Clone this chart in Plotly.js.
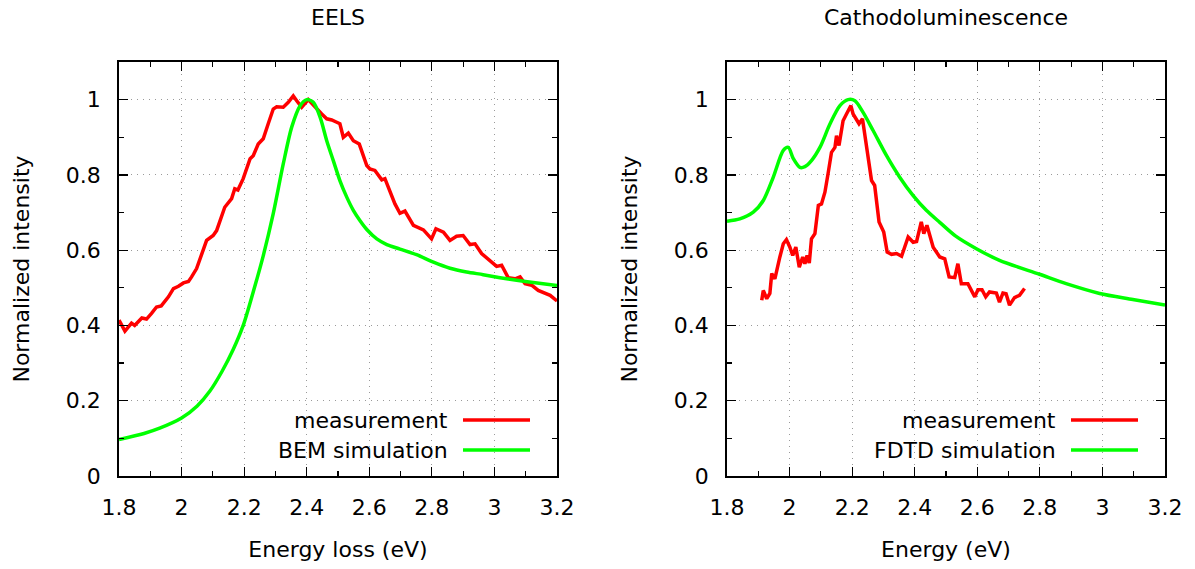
<!DOCTYPE html>
<html>
<head>
<meta charset="utf-8">
<script src="https://cdn.plot.ly/plotly-3.0.1.min.js"></script>
<style>
  html, body { margin: 0; padding: 0; background: #fff; }
  #chart { width: 1195px; height: 569px; }
</style>
</head>
<body>
<div id="chart"></div>
<script>
// EELS: measured spectrum and BEM simulation
const eelsMeasE = [1.800,1.819,1.840,1.850,1.873,1.888,1.904,1.920,1.935,1.958,1.974,1.990,2.006,2.022,2.032,2.048,2.080,2.101,2.112,2.138,2.160,2.170,2.180,2.197,2.219,2.229,2.245,2.261,2.277,2.293,2.304,2.325,2.341,2.357,2.368,2.384,2.405,2.426,2.448,2.464,2.480,2.496,2.506,2.517,2.533,2.549,2.568,2.592,2.602,2.618,2.640,2.650,2.682,2.698,2.714,2.741,2.757,2.773,2.799,2.813,2.837,2.858,2.879,2.900,2.922,2.938,2.959,2.991,3.007,3.023,3.044,3.066,3.082,3.098,3.119,3.140,3.162,3.178,3.200];
const eelsMeasI = [0.414,0.385,0.406,0.400,0.420,0.417,0.432,0.449,0.452,0.476,0.498,0.504,0.513,0.517,0.529,0.551,0.626,0.639,0.652,0.714,0.737,0.763,0.760,0.790,0.843,0.851,0.882,0.896,0.936,0.975,0.981,0.980,0.993,1.010,0.997,0.980,1.000,0.980,0.962,0.949,0.946,0.940,0.936,0.900,0.911,0.891,0.882,0.825,0.816,0.812,0.787,0.790,0.723,0.698,0.704,0.666,0.659,0.654,0.630,0.657,0.648,0.626,0.637,0.639,0.615,0.617,0.591,0.568,0.557,0.560,0.527,0.524,0.529,0.511,0.507,0.493,0.485,0.480,0.465];
const eelsBemE = [1.80,1.88,1.93,2.00,2.05,2.09,2.13,2.165,2.197,2.229,2.261,2.293,2.325,2.352,2.379,2.400,2.421,2.443,2.464,2.485,2.506,2.528,2.549,2.570,2.592,2.624,2.656,2.698,2.751,2.805,2.858,2.911,2.964,3.018,3.071,3.124,3.200];
const eelsBemI = [0.097,0.113,0.127,0.154,0.186,0.225,0.279,0.336,0.400,0.489,0.585,0.697,0.829,0.927,0.984,1.000,0.993,0.953,0.891,0.838,0.785,0.741,0.706,0.679,0.655,0.630,0.615,0.603,0.588,0.568,0.552,0.542,0.535,0.527,0.520,0.514,0.506];

// Cathodoluminescence: measured spectrum and FDTD simulation
const clMeasE = [1.911,1.916,1.927,1.937,1.943,1.953,1.969,1.980,1.990,2.001,2.010,2.020,2.031,2.042,2.049,2.056,2.063,2.070,2.081,2.092,2.102,2.113,2.123,2.134,2.145,2.150,2.158,2.171,2.182,2.196,2.203,2.214,2.222,2.233,2.246,2.262,2.272,2.286,2.301,2.312,2.326,2.342,2.358,2.379,2.395,2.406,2.421,2.429,2.439,2.459,2.480,2.496,2.510,2.528,2.538,2.549,2.570,2.592,2.602,2.615,2.627,2.639,2.661,2.671,2.682,2.692,2.703,2.719,2.735,2.751];
const clMeasI = [0.467,0.493,0.471,0.485,0.538,0.524,0.582,0.617,0.628,0.608,0.586,0.608,0.555,0.582,0.564,0.586,0.566,0.630,0.644,0.719,0.723,0.754,0.803,0.860,0.873,0.904,0.878,0.944,0.962,0.984,0.962,0.949,0.936,0.949,0.873,0.785,0.772,0.675,0.648,0.595,0.589,0.591,0.584,0.635,0.621,0.623,0.675,0.644,0.666,0.608,0.582,0.577,0.529,0.527,0.564,0.511,0.511,0.476,0.495,0.495,0.476,0.489,0.486,0.462,0.486,0.484,0.454,0.474,0.480,0.498];
const clFdtdE = [1.80,1.841,1.884,1.916,1.948,1.980,1.996,2.012,2.033,2.049,2.070,2.097,2.129,2.161,2.187,2.209,2.235,2.267,2.310,2.352,2.395,2.437,2.480,2.530,2.597,2.671,2.799,2.884,2.991,3.097,3.200];
const clFdtdI = [0.677,0.683,0.701,0.732,0.794,0.865,0.873,0.843,0.820,0.822,0.838,0.873,0.935,0.984,1.000,0.997,0.966,0.918,0.851,0.794,0.745,0.706,0.674,0.638,0.604,0.573,0.536,0.511,0.485,0.469,0.454];

const panelTitles = ['EELS', 'Cathodoluminescence'];
const xTitles = ['Energy loss (eV)', 'Energy (eV)'];
const yTitle = 'Normalized intensity';
const legendNames = [['measurement', 'BEM simulation'], ['measurement', 'FDTD simulation']];
const xTickVals = [1.8, 2.0, 2.2, 2.4, 2.6, 2.8, 3.0, 3.2];
const yTickVals = [0, 0.2, 0.4, 0.6, 0.8, 1.0];

const RED = '#ff0000';
const GREEN = '#00ff00';
const FONT = 'DejaVu Sans, sans-serif';
const FS = 22;
const LW = 3.5;

const traces = [
  {x: eelsMeasE, y: eelsMeasI, xaxis: 'x', yaxis: 'y', mode: 'lines', line: {color: RED, width: LW}, name: legendNames[0][0]},
  {x: eelsBemE, y: eelsBemI, xaxis: 'x', yaxis: 'y', mode: 'lines', line: {color: GREEN, width: LW, shape: 'spline', smoothing: 0.8}, name: legendNames[0][1]},
  {x: clMeasE, y: clMeasI, xaxis: 'x2', yaxis: 'y2', mode: 'lines', line: {color: RED, width: LW}, name: legendNames[1][0]},
  {x: clFdtdE, y: clFdtdI, xaxis: 'x2', yaxis: 'y2', mode: 'lines', line: {color: GREEN, width: LW, shape: 'spline', smoothing: 0.8}, name: legendNames[1][1]}
];

const W = 1195, H = 569;
const plotTop = 62, plotBottom = 476;
const panels = [[119, 557], [727, 1165]];
const yDom = [1 - plotBottom / H, 1 - plotTop / H];

function xAxis(i, anchor) {
  return {
    domain: [panels[i][0] / W, panels[i][1] / W],
    anchor: anchor,
    range: [1.8, 3.2],
    tickmode: 'array', tickvals: xTickVals,
    ticks: 'inside', ticklen: 9, tickwidth: 1.2, tickcolor: '#000',
    minor: {ticks: 'inside', dtick: 0.1, tick0: 1.8, ticklen: 5, tickwidth: 1.2, tickcolor: '#000', showgrid: false},
    showline: true, linecolor: '#000', linewidth: 1.8, mirror: 'allticks',
    showgrid: true, gridcolor: '#9a9a9a', gridwidth: 1, griddash: '1px,5px',
    zeroline: false,
    tickfont: {family: FONT, size: FS, color: '#000'},
    ticklabelstandoff: 11,
    title: {text: xTitles[i], font: {family: FONT, size: FS, color: '#000'}, standoff: 22}
  };
}
function yAxis(anchor) {
  return {
    domain: yDom,
    anchor: anchor,
    range: [0, 1.1],
    tickmode: 'array', tickvals: yTickVals, ticktext: ['0', '0.2', '0.4', '0.6', '0.8', '1'],
    ticks: 'inside', ticklen: 9, tickwidth: 1.2, tickcolor: '#000',
    minor: {ticks: 'inside', dtick: 0.1, tick0: 0, ticklen: 5, tickwidth: 1.2, tickcolor: '#000', showgrid: false},
    showline: true, linecolor: '#000', linewidth: 1.8, mirror: 'allticks',
    showgrid: true, gridcolor: '#9a9a9a', gridwidth: 1, griddash: '1px,5px',
    zeroline: false,
    tickfont: {family: FONT, size: FS, color: '#000'},
    ticklabelstandoff: 12,
    title: {text: yTitle, font: {family: FONT, size: FS, color: '#000'}, standoff: 30}
  };
}

// gnuplot-style key: right-aligned labels with the line sample to their right
const annotations = [];
const shapes = [];
const keyTextRight = [450, 1058];
const keySample = [[463, 530], [1071, 1138]];
const keyRows = [420, 450];
const keyColors = [RED, GREEN];
for (let p = 0; p < 2; p++) {
  annotations.push({
    text: panelTitles[p], xref: 'paper', yref: 'paper',
    x: (panels[p][0] + panels[p][1]) / 2 / W, y: 1 - 17 / H,
    xanchor: 'center', yanchor: 'middle', showarrow: false,
    font: {family: FONT, size: FS, color: '#000'}
  });
  for (let r = 0; r < 2; r++) {
    annotations.push({
      text: legendNames[p][r], xref: 'paper', yref: 'paper',
      x: keyTextRight[p] / W, y: 1 - keyRows[r] / H,
      xanchor: 'right', yanchor: 'middle', showarrow: false,
      font: {family: FONT, size: FS, color: '#000'}
    });
    shapes.push({
      type: 'line', xref: 'paper', yref: 'paper',
      x0: keySample[p][0] / W, x1: keySample[p][1] / W,
      y0: 1 - keyRows[r] / H, y1: 1 - keyRows[r] / H,
      line: {color: keyColors[r], width: LW}
    });
  }
}

const layout = {
  width: W, height: H,
  margin: {l: 0, r: 0, t: 0, b: 0},
  paper_bgcolor: '#fff', plot_bgcolor: '#fff',
  showlegend: false,
  xaxis: xAxis(0, 'y'),
  yaxis: yAxis('x'),
  xaxis2: xAxis(1, 'y2'),
  yaxis2: yAxis('x2'),
  annotations: annotations,
  shapes: shapes
};

Plotly.newPlot('chart', traces, layout, {displayModeBar: false, staticPlot: true});
</script>
</body>
</html>
